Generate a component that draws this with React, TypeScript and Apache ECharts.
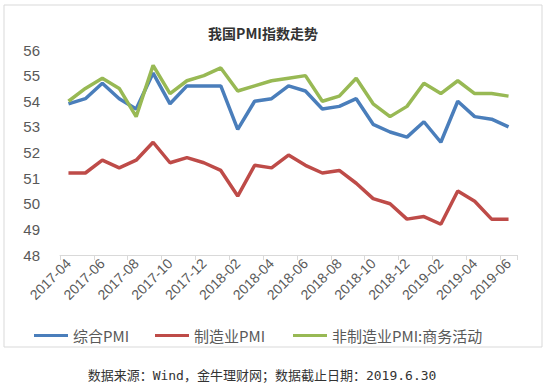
import React, { useEffect, useRef } from "react";
import * as echarts from "echarts";

const months = [
  "2017-04", "2017-05", "2017-06", "2017-07", "2017-08", "2017-09", "2017-10", "2017-11", "2017-12",
  "2018-01", "2018-02", "2018-03", "2018-04", "2018-05", "2018-06", "2018-07", "2018-08", "2018-09",
  "2018-10", "2018-11", "2018-12", "2019-01", "2019-02", "2019-03", "2019-04", "2019-05", "2019-06",
];
const compositePMI = [
  53.9, 54.1, 54.7, 54.1, 53.7, 55.1, 53.9, 54.6, 54.6,
  54.6, 52.9, 54.0, 54.1, 54.6, 54.4, 53.7, 53.8, 54.1,
  53.1, 52.8, 52.6, 53.2, 52.4, 54.0, 53.4, 53.3, 53.0,
];
const manufacturingPMI = [
  51.2, 51.2, 51.7, 51.4, 51.7, 52.4, 51.6, 51.8, 51.6,
  51.3, 50.3, 51.5, 51.4, 51.9, 51.5, 51.2, 51.3, 50.8,
  50.2, 50.0, 49.4, 49.5, 49.2, 50.5, 50.1, 49.4, 49.4,
];
const nonManufacturingPMI = [
  54.0, 54.5, 54.9, 54.5, 53.4, 55.4, 54.3, 54.8, 55.0,
  55.3, 54.4, 54.6, 54.8, 54.9, 55.0, 54.0, 54.2, 54.9,
  53.9, 53.4, 53.8, 54.7, 54.3, 54.8, 54.3, 54.3, 54.2,
];
const seriesNames = ["综合PMI", "制造业PMI", "非制造业PMI:商务活动"];
const colors = ["#4A7EBB", "#BE4B48", "#98B954"];
const titleText = "我国PMI指数走势";
const sourceText = "数据来源：Wind，金牛理财网；数据截止日期：2019.6.30";

export default function App() {
  const ref = useRef<HTMLDivElement>(null);
  useEffect(() => {
    if (!ref.current) return;
    const chart = echarts.init(ref.current, undefined, { renderer: "svg" });
    const dataSets = [compositePMI, manufacturingPMI, nonManufacturingPMI];
    const legendLefts = [29, 150, 288];
    chart.setOption({
      animation: false,
      backgroundColor: "#ffffff",
      title: {
        text: titleText,
        left: 258,
        textAlign: "center",
        top: 21,
        textStyle: {
          fontFamily: "Noto Sans CJK SC",
          fontWeight: "bold",
          fontSize: 14,
          color: "#333333",
        },
      },
      legend: seriesNames.map((n, i) => ({
        data: [n],
        left: legendLefts[i],
        top: 323,
        icon: "rect",
        itemWidth: 34,
        itemHeight: 3,
        itemGap: 0,
        textStyle: {
          fontFamily: "Noto Sans CJK SC",
          fontSize: 15,
          color: "#595959",
        },
      })),
      grid: { left: 60, right: 30, top: 50, bottom: 129 },
      xAxis: {
        type: "category",
        data: months,
        boundaryGap: true,
        axisLine: { show: true, lineStyle: { color: "#D9D9D9", width: 1 } },
        axisTick: { show: true, interval: 1, length: 5, lineStyle: { color: "#D9D9D9" } },
        axisLabel: {
          interval: 1,
          rotate: 45,
          margin: 6,
          fontFamily: "Liberation Sans",
          fontSize: 14,
          color: "#595959",
        },
        splitLine: { show: false },
      },
      yAxis: {
        type: "value",
        min: 48,
        max: 56,
        interval: 1,
        axisLine: { show: false },
        axisTick: { show: false },
        splitLine: { show: false },
        axisLabel: {
          margin: 20,
          fontFamily: "Liberation Sans",
          fontSize: 15,
          color: "#595959",
        },
      },
      series: seriesNames.map((n, i) => ({
        name: n,
        type: "line",
        data: dataSets[i],
        symbol: "none",
        lineStyle: { width: 3.5, color: colors[i] },
        itemStyle: { color: colors[i] },
      })),
      graphic: [
        {
          type: "rect",
          shape: { x: 4, y: 5, width: 538, height: 342 },
          style: { fill: "none", stroke: "#D9D9D9", lineWidth: 1 },
          silent: true,
        },
        {
          type: "text",
          x: 262,
          y: 375,
          style: {
            text: sourceText,
            fontFamily: "'DejaVu Sans Mono', 'Noto Sans CJK SC'",
            fontSize: 13,
            fill: "#333333",
            textAlign: "center",
            textVerticalAlign: "middle",
          },
        },
      ],
    });
    return () => chart.dispose();
  }, []);
  return (
    <div
      ref={ref}
      style={{ position: "absolute", left: 0, top: 0, width: 547, height: 384 }}
    />
  );
}
